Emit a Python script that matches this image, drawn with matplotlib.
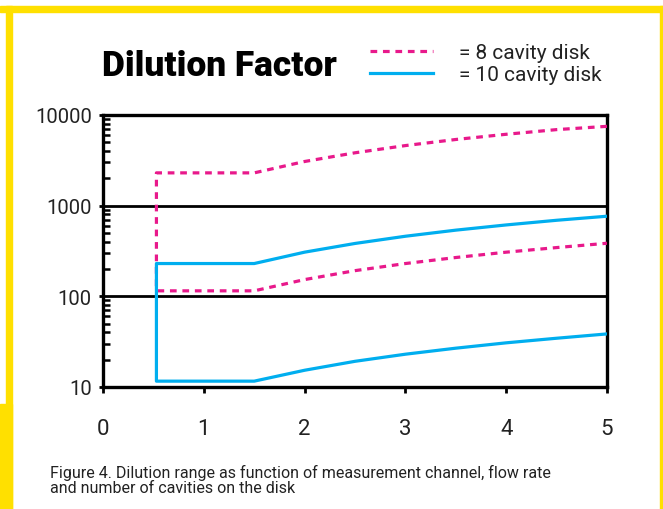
import matplotlib
matplotlib.use('Agg')
import matplotlib.pyplot as plt
from matplotlib.patches import Rectangle

x_pts = [0.53, 0.53, 1.5, 2.0, 2.5, 3.0, 3.5, 4.0, 4.5, 5.0]
cav8_high = [2300, 2300, 2300, 3070, 3830, 4600, 5370, 6130, 6900, 7500]
cav8_low = [115, 115, 115, 153, 192, 230, 268, 307, 345, 385]
cav10_high = [230, 230, 230, 307, 383, 460, 537, 613, 690, 765]
cav10_low = [11.6, 11.6, 11.6, 15.3, 19.2, 23, 26.8, 30.7, 34.5, 38.5]

x_ticks = [0, 1, 2, 3, 4, 5]
y_ticks = [10, 100, 1000, 10000]
y_labels = ['10', '100', '1000', '10000']

pink = '#E8198B'
blue = '#00AEEF'
txt = '#222222'

W, H = 663, 510
fig = plt.figure(figsize=(W / 100, H / 100), dpi=100)

# yellow frame
yel = '#FFE000'
fig.patches.append(Rectangle((0, 1 - 13 / H), 1, 6 / H, transform=fig.transFigure, color=yel, zorder=0))
fig.patches.append(Rectangle((6 / W, 0), 6 / W, 1 - 7 / H, transform=fig.transFigure, color=yel, zorder=0))
fig.patches.append(Rectangle((0, 0), 12 / W, 1 - 405 / H, transform=fig.transFigure, color=yel, zorder=0))
fig.patches.append(Rectangle((660 / W, 0), 3 / W, 1 - 7 / H, transform=fig.transFigure, color=yel, zorder=0))

ax = fig.add_axes([103 / W, 1 - 388 / H, 504 / W, 272 / H])

# each series is one path: upper curve back to the corner, down, then the lower curve
n = len(x_pts)
x_path = x_pts[::-1][:n - 1] + [x_pts[0]] + x_pts[1:]
y8 = cav8_high[::-1][:n - 1] + [cav8_high[0]] + cav8_low[1:]
y10 = cav10_high[::-1][:n - 1] + [cav10_high[0]] + cav10_low[1:]
l8, = ax.plot(x_path, y8, color=pink, lw=2.3, dashes=(2.1, 1.8), zorder=3)
l10, = ax.plot(x_path, y10, color=blue, lw=2.3, zorder=4)

ax.set_yscale('log')
ax.set_xlim(0, 5)
ax.set_ylim(10, 10000)
for v in [100, 1000]:
    ax.axhline(v, color='black', lw=2, zorder=2)

for s in ax.spines.values():
    s.set_linewidth(2.4)

ax.set_xticks(x_ticks)
ax.set_xticklabels([str(t) for t in x_ticks])
ax.set_yticks(y_ticks)
ax.set_yticklabels(y_labels)

for t in ax.get_xticklabels() + ax.get_yticklabels():
    t.set_fontfamily('Roboto')
    t.set_color(txt)

ax.tick_params(axis='x', which='major', direction='out', length=4, width=2, pad=18, labelsize=16)
ax.tick_params(axis='y', which='major', direction='out', length=3, width=2, pad=5, labelsize=14.5)
ax.tick_params(axis='y', which='minor', direction='in', length=5, width=1.8)

fig.text(102 / W, 1 - 76 / H, 'Dilution Factor', fontsize=25.5, fontweight='heavy',
         family='Roboto', va='baseline', ha='left')

ax.legend([l8, l10], ['= 8 cavity disk', '= 10 cavity disk'],
          loc='upper left', bbox_to_anchor=(370 / W, 1 - 44 / H), bbox_transform=fig.transFigure,
          frameon=False, handlelength=3.0, handletextpad=1.25, borderpad=0, borderaxespad=0,
          labelspacing=0.15, labelcolor=txt, prop=dict(family='Roboto', size=15))

caption = ['Figure 4. Dilution range as function of measurement channel, flow rate',
           'and number of cavities on the disk']
for i, line in enumerate(caption):
    fig.text(50 / W, 1 - (478 + 15 * i) / H, line, fontsize=11.5, family='Roboto',
             va='baseline', ha='left', color=txt)

fig.savefig('out.png', dpi=100)
